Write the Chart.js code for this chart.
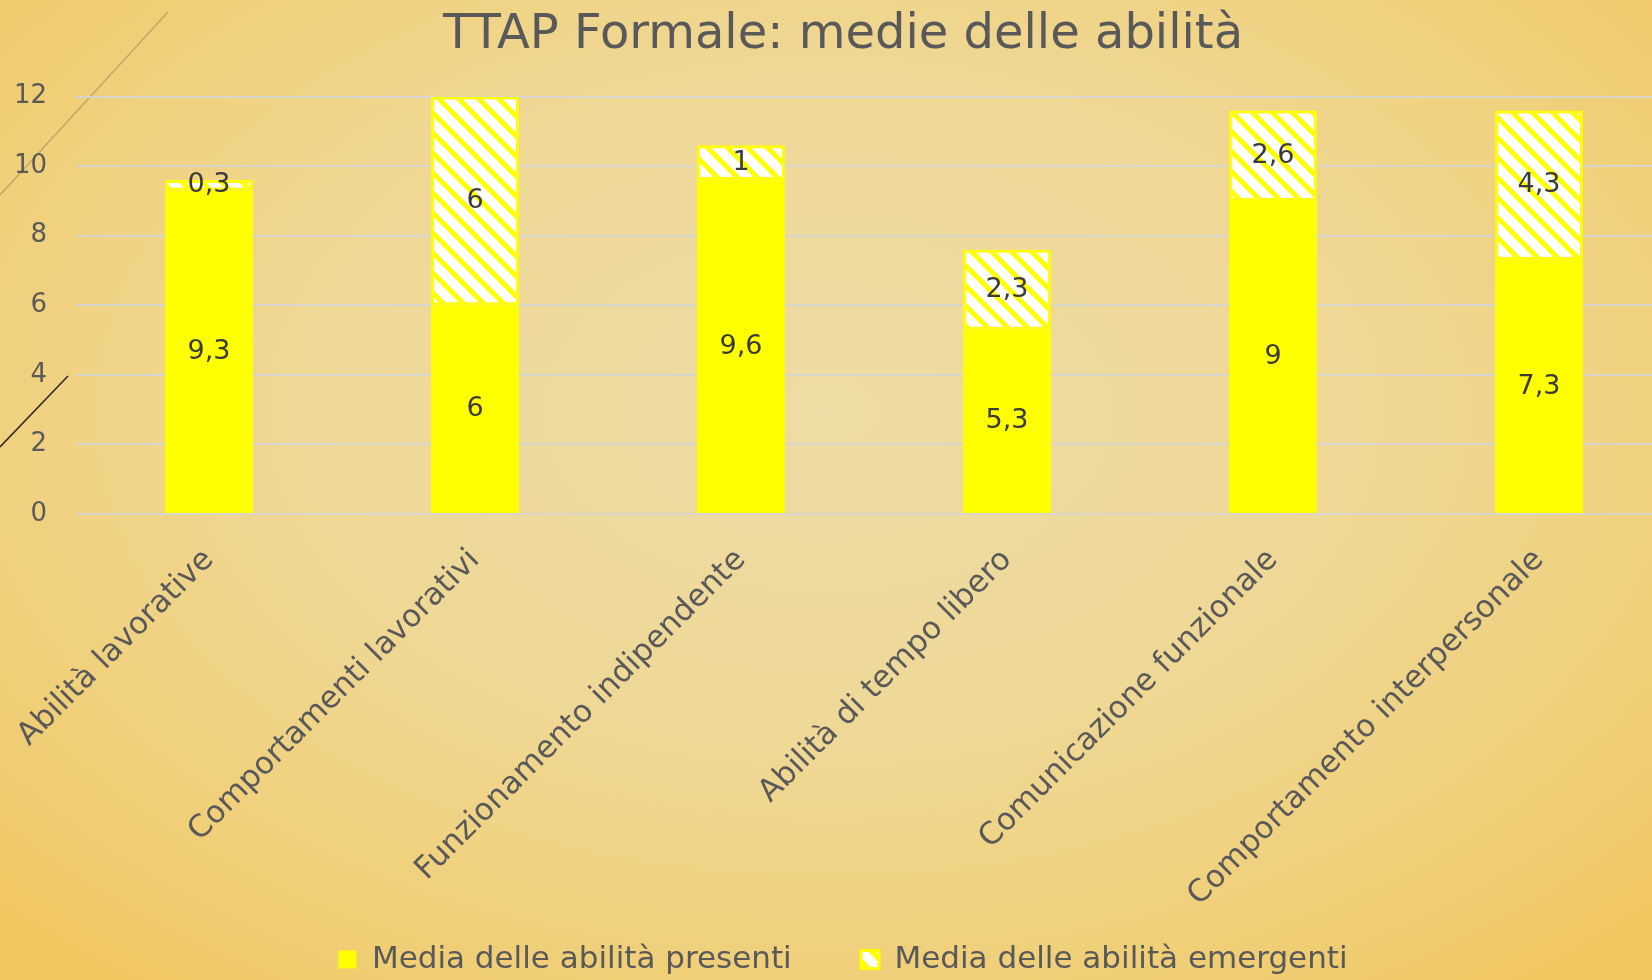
<!DOCTYPE html>
<html lang="it">
<head>
  <meta charset="UTF-8" />
  <title>TTAP Formale</title>
  <style>
    * { box-sizing: border-box; margin: 0; padding: 0; }
    html, body {
      width: 1652px;
      height: 980px;
      overflow: hidden;
      background: radial-gradient(ellipse 70% 75% at 50% 42%, #eedca6 0%, #efd896 45%, #f0cd72 85%, #f1c65e 100%);
      font-family: "DejaVu Sans", sans-serif;
    }
    #deco { position: absolute; left: 0; top: 0; width: 200px; height: 460px; }
    #wrap { position: absolute; left: 0; top: 0; width: 1694px; height: 985px; }
  </style>
  <script src="https://cdn.jsdelivr.net/npm/chart.js@4/dist/chart.umd.min.js"></script>
</head>
<body>
  <svg id="deco" viewBox="0 0 200 460">
    <line x1="0" y1="195" x2="168" y2="12" stroke="#b9a36a" stroke-width="1.2" />
    <line x1="0" y1="447" x2="68" y2="376" stroke="#2e2a20" stroke-width="1.6" />
  </svg>
  <div id="wrap"><canvas id="chart"></canvas></div>

  <script>
    // dati
    const categorie = [
      'Abilità lavorative',
      'Comportamenti lavorativi',
      'Funzionamento indipendente',
      'Abilità di tempo libero',
      'Comunicazione funzionale',
      'Comportamento interpersonale'
    ];
    const presenti = [9.3, 6, 9.6, 5.3, 9, 7.3];
    const emergenti = [0.3, 6, 1, 2.3, 2.6, 4.3];
    const yTicks = [0, 2, 4, 6, 8, 10, 12];

    const GRAY = '#595959';
    const YELLOW = '#ffff00';

    // tratteggio diagonale giallo/bianco
    function hatch() {
      const p = 20;
      const c = document.createElement('canvas');
      c.width = p; c.height = p;
      const g = c.getContext('2d');
      g.fillStyle = '#ffffff';
      g.fillRect(0, 0, p, p);
      g.strokeStyle = YELLOW;
      g.lineWidth = 5;
      g.beginPath();
      g.moveTo(-p / 2, -p / 2); g.lineTo(p * 1.5, p * 1.5);
      g.moveTo(-p / 2, p / 2); g.lineTo(p / 2, p * 1.5);
      g.moveTo(p / 2, -p / 2); g.lineTo(p * 1.5, p / 2);
      g.stroke();
      return g.createPattern(c, 'repeat');
    }
    const pattern = hatch();

    // etichette dentro le barre
    const valueLabels = {
      id: 'valueLabels',
      afterDatasetsDraw(chart) {
        const ctx = chart.ctx;
        ctx.save();
        ctx.font = '27px "DejaVu Sans"';
        ctx.fillStyle = '#3a3a3a';
        ctx.textAlign = 'center';
        ctx.textBaseline = 'middle';
        chart.data.datasets.forEach((ds, i) => {
          chart.getDatasetMeta(i).data.forEach((bar, j) => {
            const { x, y, base } = bar.getProps(['x', 'y', 'base'], true);
            const txt = String(ds.data[j]).replace('.', ',');
            ctx.fillText(txt, x, (y + base) / 2);
          });
        });
        ctx.restore();
      }
    };

    new Chart(document.getElementById('chart'), {
      type: 'bar',
      data: {
        labels: categorie,
        datasets: [
          {
            label: 'Media delle abilità presenti',
            data: presenti,
            backgroundColor: YELLOW,
            borderColor: YELLOW,
            borderWidth: 0,
            categoryPercentage: 0.66,
            barPercentage: 0.5
          },
          {
            label: 'Media delle abilità emergenti',
            data: emergenti,
            backgroundColor: pattern,
            borderColor: YELLOW,
            borderWidth: 3,
            borderSkipped: false,
            categoryPercentage: 0.66,
            barPercentage: 0.5
          }
        ]
      },
      options: {
        responsive: true,
        maintainAspectRatio: false,
        animation: false,
        layout: { padding: { left: 14, right: 22, top: 0, bottom: 0 } },
        scales: {
          x: {
            stacked: true,
            grid: { display: false, drawTicks: false },
            border: { display: false },
            ticks: {
              color: GRAY,
              font: { family: 'DejaVu Sans', size: 31 },
              minRotation: 45,
              maxRotation: 45,
              padding: 28
            },
            afterFit: s => {
              s.paddingLeft = 0;
              s.paddingRight = 0;
              s.height = 410;
            }
          },
          y: {
            stacked: true,
            min: 0,
            max: 12,
            afterBuildTicks: axis => { axis.ticks = yTicks.map(v => ({ value: v })); },
            grid: { color: '#d8d5cc', lineWidth: 2, drawTicks: false },
            border: { display: false },
            ticks: {
              color: GRAY,
              font: { family: 'DejaVu Sans', size: 26 },
              padding: 29
            },
            afterFit: s => { s.width = 62; }
          }
        },
        plugins: {
          title: {
            display: true,
            text: 'TTAP Formale: medie delle abilità',
            color: GRAY,
            font: { family: 'DejaVu Sans', size: 48, weight: 'normal' },
            padding: { top: 7, bottom: 32 }
          },
          legend: {
            position: 'bottom',
            labels: {
              color: GRAY,
              font: { family: 'DejaVu Sans', size: 31 },
              boxWidth: 18,
              boxHeight: 18,
              padding: 20,
              // spazio extra tra le due voci
              generateLabels: chart => {
                const items = Chart.defaults.plugins.legend.labels.generateLabels(chart);
                items[0].text += '\u00a0'.repeat(5);
                return items;
              }
            }
          },
          tooltip: { enabled: false }
        }
      },
      plugins: [valueLabels]
    });
  </script>
</body>
</html>
